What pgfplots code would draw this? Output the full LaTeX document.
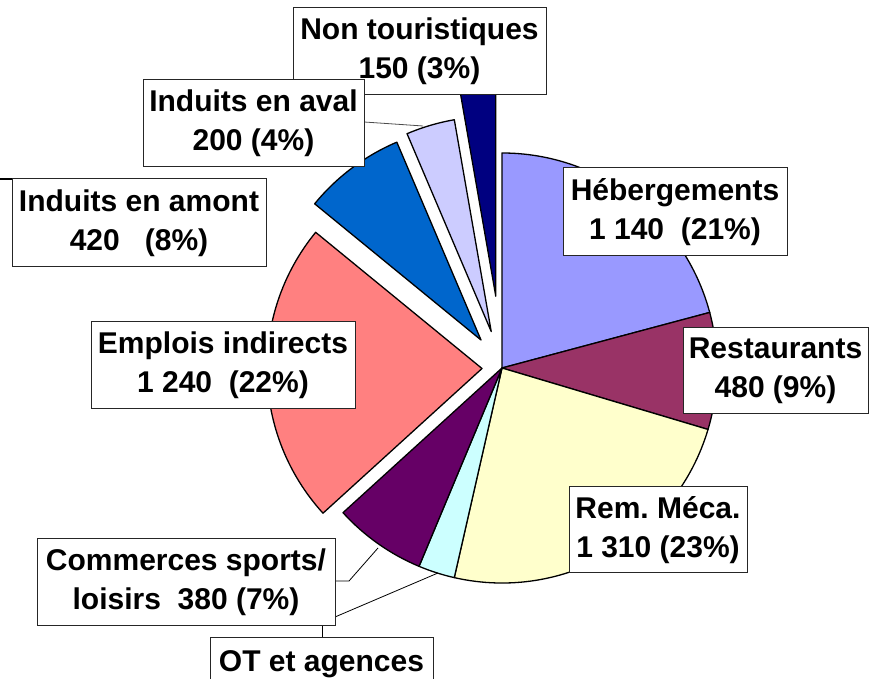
\documentclass[border=0pt]{standalone}
\usepackage{pgfplots}
\pgfplotsset{compat=1.18}
\usepackage{fontspec}
\setmainfont{Liberation Sans}
\frenchspacing
\definecolor{heb}{HTML}{9999FF}
\definecolor{rest}{HTML}{993366}
\definecolor{rem}{HTML}{FFFFCC}
\definecolor{ot}{HTML}{CCFFFF}
\definecolor{comm}{HTML}{660066}
\definecolor{empl}{HTML}{FF8080}
\definecolor{amont}{HTML}{0066CC}
\definecolor{aval}{HTML}{CCCCFF}
\definecolor{nont}{HTML}{000080}
\newcommand\cx{502}
\newcommand\cy{311}
\newcommand\rr{215}
\newcommand\total{5470}
\gdef\curang{90}
\tikzset{lblfont/.style={font=\fontsize{30}{39}\selectfont\bfseries}}
% value, explode distance, colour
\newcommand\slice[3]{%
  \pgfmathsetmacro\sweep{#1/\total*360}%
  \pgfmathsetmacro\angend{\curang-\sweep}%
  \pgfmathsetmacro\midang{\curang-\sweep/2}%
  \pgfmathsetmacro\ox{\cx+#2*cos(\midang)}%
  \pgfmathsetmacro\oy{\cy+#2*sin(\midang)}%
  \edef\doit{\noexpand\filldraw[fill=#3, draw=black, line width=1.3pt, line join=round]
    (axis cs:\ox,\oy) -- ++(\curang:\rr pt)
    arc[start angle=\curang, end angle=\angend, radius=\rr pt] -- cycle;}%
  \doit
  \xdef\curang{\angend}%
}
% box: x1, ytop, x2, ybottom (pixels from top), text
\newcommand\lbl[5]{%
  \pgfmathsetmacro\Ya{679-#2}%
  \pgfmathsetmacro\Yb{679-#4}%
  \pgfmathsetmacro\Xm{(#1+#3)/2}%
  \pgfmathsetmacro\Ym{(\Ya+\Yb)/2-1}%
  \edef\doit{\noexpand\filldraw[fill=white, draw=black!85, line width=0.9pt] (axis cs:#1,\Ya) rectangle (axis cs:#3,\Yb);
  \noexpand\node[align=center, inner sep=0pt, lblfont] at (axis cs:\Xm,\Ym) {\unexpanded{#5}};}%
  \doit
}
\begin{document}
\begin{tikzpicture}
\begin{axis}[
  scale only axis, width=870pt, height=679pt,
  xmin=0, xmax=870, ymin=0, ymax=679,
  hide axis, clip=true,
]
\slice{1140}{0}{heb}
\slice{480}{0}{rest}
\slice{1310}{0}{rem}
\slice{150}{0}{ot}
\slice{380}{0}{comm}
\slice{1240}{20}{empl}
\slice{420}{35}{amont}
\slice{200}{38}{aval}
\slice{150}{72}{nont}
% leader lines
\draw[black!70, line width=0.8pt] (axis cs:364,557) -- (axis cs:423,553);
\draw[black, line width=1.6pt] (axis cs:0,500) -- (axis cs:46,500);
\draw[black, line width=0.8pt] (axis cs:335,98) -- (axis cs:349,98) -- (axis cs:378,131);
\draw[black, line width=0.8pt] (axis cs:335,62) -- (axis cs:438,106);
\draw[black, line width=0.8pt] (axis cs:322,54) -- (axis cs:322,42);
% labels
\lbl{293}{7}{546}{94}{Non touristiques\\150 (3\%)}
\lbl{143}{79}{364}{166}{Induits en aval\\200 (4\%)}
\lbl{12}{178}{266}{266}{Induits en amont\\420~~~(8\%)}
\lbl{91}{321}{355}{408}{Emplois indirects\\1~240~~(22\%)}
\lbl{563}{167}{787}{255}{Hébergements\\1~140~~(21\%)}
\lbl{683}{327}{868}{413}{Restaurants\\480 (9\%)}
\lbl{569}{486}{747}{572}{Rem. Méca.\\1~310 (23\%)}
\lbl{37}{538}{335}{625}{Commerces sports/\\loisirs~~380 (7\%)}
\filldraw[fill=white, draw=black!85, line width=0.9pt] (axis cs:210,42) rectangle (axis cs:433,-45);
\node[anchor=base, inner sep=0pt, lblfont] at (axis cs:321.5,7.5) {OT et agences};
\end{axis}
\pgfresetboundingbox
\path (current axis.south west) rectangle (current axis.north east);
\end{tikzpicture}
\end{document}
